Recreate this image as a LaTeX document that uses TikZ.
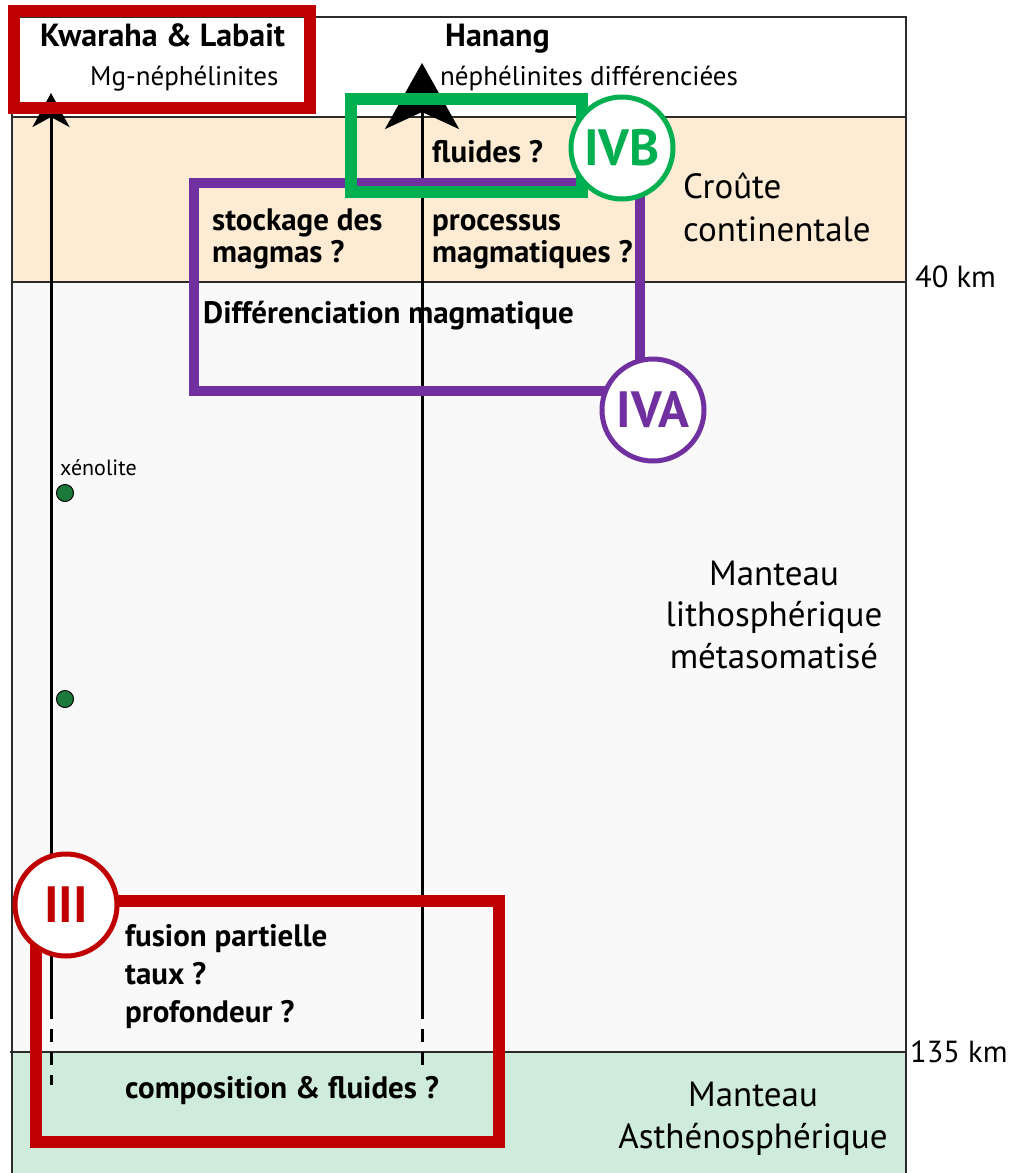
\documentclass[tikz,border=0pt]{standalone}
\usepackage{fontspec}
\setmainfont{PT Sans}
\usetikzlibrary{arrows.meta}
\definecolor{crust}{HTML}{FDEBD3}
\definecolor{litho}{HTML}{F9F9F9}
\definecolor{astheno}{HTML}{CFEBDB}
\definecolor{cred}{HTML}{C00000}
\definecolor{cgreen}{HTML}{00B050}
\definecolor{cpurple}{HTML}{7030A0}
\definecolor{dotgreen}{HTML}{1B7A3A}
\definecolor{frameline}{HTML}{2B2B2B}
\begin{document}
\begin{tikzpicture}[x=1pt,y=-1pt,
  txt/.style={inner sep=0pt, anchor=base west, font=\fontsize{27}{32}\selectfont},
  btxt/.style={inner sep=0pt, anchor=base west, font=\bfseries\fontsize{31}{36}\selectfont},
  ttl/.style={inner sep=0pt, anchor=base west, font=\bfseries\fontsize{32}{38}\selectfont},
  layer/.style={inner sep=0pt, anchor=base, font=\fontsize{35}{42}\selectfont},
  km/.style={inner sep=0pt, anchor=base west, font=\fontsize{30.5}{36}\selectfont},
  numcirc/.style={circle, fill=white, line width=5pt, minimum size=102pt, inner sep=0pt, font=\bfseries\fontsize{51}{60}\selectfont},
  xdot/.style={circle, fill=dotgreen, draw=black, line width=1pt, minimum size=17pt, inner sep=0pt},
  frm/.style={draw=frameline, line width=2pt},
  magma/.style={line width=3pt, draw=black},
  dashpart/.style={line width=3pt, draw=black, dash pattern=on 13pt off 10pt},
  qbox/.style={line width=12pt},
]
\useasboundingbox (0,0) rectangle (1012,1173);
% layers
\fill[white] (0,0) rectangle (1012,1173);
\fill[crust] (12,117) rectangle (906,282);
\fill[litho] (12,282) rectangle (906,1052);
\fill[astheno] (12,1052) rectangle (906,1173);
\draw[frm] (12,1173) -- (12,17) -- (906,17) -- (906,1173);
\draw[frm] (12,117) -- (906,117);
\draw[frm] (12,282) -- (906,282);
\draw[frm] (10,1052) -- (906,1052);

% magma paths
\coordinate (kbot) at (51,1006);
\coordinate (ktop) at (51,93);
\coordinate (kend) at (51,1085);
\coordinate (hbot) at (422,1006);
\coordinate (htop) at (422,63);
\coordinate (hend) at (422,1067);
\draw[magma, -{Stealth[length=34pt,width=37pt,inset=10pt]}] (kbot) -- (ktop);
\draw[dashpart] (kbot) -- (kend);
\draw[magma, -{Stealth[length=66pt,width=74pt,inset=17pt]}] (hbot) -- (htop);
\draw[dashpart] (hbot) -- (hend);

% xenoliths
\node[xdot] (x1) at (65,493) {};
\node[xdot] (x2) at (65,699) {};
\node[inner sep=0pt, anchor=base west, font=\fontsize{22}{26}\selectfont] (xen) at (60,475) {xénolite};

% question boxes
\draw[cpurple, line width=10pt] (194,183) rectangle (640,391);
\draw[cgreen, qbox] (351,99) rectangle (582,192);
\draw[cred, qbox] (14,11) rectangle (310,108);
\draw[cred, qbox] (36,901) rectangle (499,1142);

% circles
\node[numcirc, draw=cgreen, text=cgreen] (ivb) at (622,148) {IVB};
\node[numcirc, draw=cpurple, text=cpurple] (iva) at (653,410) {IVA};
\node[numcirc, draw=cred, text=cred] (iii) at (66,905) {III};

% titles
\node[ttl] (kw) at (40,46) {Kwaraha \& Labait};
\node[txt] (mg) at (90,85) {Mg-néphélinites};
\node[ttl] (ha) at (445,46) {Hanang};
\node[txt] (nd) at (440,85) {néphélinites différenciées};

% questions
\node[btxt] (fl) at (432,162) {fluides ?};
\node[btxt] (st1) at (212,230) {stockage des};
\node[btxt] (st2) at (212,262) {magmas ?};
\node[btxt] (pr1) at (432,230) {processus};
\node[btxt] (pr2) at (432,262) {magmatiques ?};
\node[btxt] (dm) at (203,323) {Différenciation magmatique};
\node[btxt] (fp1) at (125,946) {fusion partielle};
\node[btxt] (fp2) at (125,984) {taux ?};
\node[btxt] (fp3) at (125,1022) {profondeur ?};
\node[btxt] (cf) at (125,1098) {composition \& fluides ?};

% layers
\node[layer, anchor=base west] (cr1) at (683,198) {Croûte};
\node[layer, anchor=base west] (cr2) at (683,241) {continentale};
\node[layer] (ml1) at (774,585) {Manteau};
\node[layer] (ml2) at (774,626) {lithosphérique};
\node[layer] (ml3) at (774,668) {métasomatisé};
\node[layer] (ma1) at (753,1106) {Manteau};
\node[layer] (ma2) at (753,1148) {Asthénosphérique};
\node[km] (k40) at (915,287) {40 km};
\node[km] (k135) at (910,1062) {135 km};
\end{tikzpicture}
\end{document}
